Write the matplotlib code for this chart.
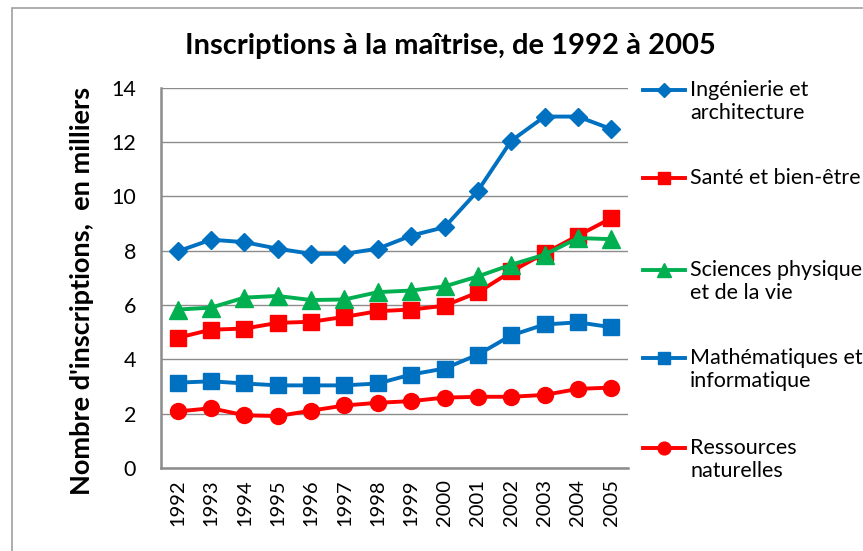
import matplotlib.pyplot as plt
from matplotlib.lines import Line2D
from matplotlib.patches import Rectangle

plt.rcParams['font.family'] = ['Lato', 'DejaVu Sans']

years = [str(y) for y in range(1992, 2006)]

ingenierie = [7.97, 8.4, 8.31, 8.07, 7.88, 7.88, 8.07, 8.55, 8.86, 10.2, 12.04, 12.93, 12.93, 12.47]
sante = [4.79, 5.09, 5.13, 5.34, 5.38, 5.56, 5.77, 5.83, 5.97, 6.46, 7.23, 7.9, 8.55, 9.19]
sciences = [5.83, 5.9, 6.27, 6.33, 6.18, 6.2, 6.47, 6.53, 6.68, 7.05, 7.48, 7.85, 8.46, 8.42]
maths = [3.14, 3.19, 3.11, 3.04, 3.04, 3.04, 3.11, 3.44, 3.66, 4.17, 4.88, 5.28, 5.36, 5.18]
ressources = [2.08, 2.2, 1.94, 1.91, 2.11, 2.3, 2.4, 2.46, 2.59, 2.62, 2.62, 2.69, 2.91, 2.96]

labels = ["Ingénierie et\narchitecture", "Santé et bien-être",
          "Sciences physiques\net de la vie", "Mathématiques et\ninformatique",
          "Ressources\nnaturelles"]

series = [
    (ingenierie, '#0070C0', 'D', 9.5),
    (sante, '#FF0000', 's', 11),
    (sciences, '#00B050', '^', 12.5),
    (maths, '#0070C0', 's', 11),
    (ressources, '#FF0000', 'o', 11.5),
]

fig = plt.figure(figsize=(8.63, 5.51), dpi=100)
fig.patches.append(Rectangle((12 / 863, -0.1), 1.2, 1 - 8 / 551 + 0.1, transform=fig.transFigure,
                             fill=False, edgecolor='#A0A0A0', linewidth=1.2))

ax = fig.add_axes([161 / 863, 1 - 468 / 551, (628 - 161) / 863, (468 - 87.5) / 551])
x = list(range(len(years)))
for vals, col, mk, ms in series:
    ax.plot(x, vals, color=col, marker=mk, markersize=ms, linewidth=2.8, clip_on=False)

ax.set_xlim(-0.5, len(years) - 0.5)
ax.set_ylim(0, 14)
ax.set_yticks(range(0, 15, 2))
ax.set_xticks(x)
ax.set_xticklabels(years, rotation=90, fontsize=14.5)
ax.tick_params(axis='y', labelsize=15.5, length=0, pad=18)
ax.tick_params(axis='x', length=0, pad=8)
ax.grid(axis='y', color='#8C8C8C', linewidth=1)
ax.set_axisbelow(True)
for s in ['top', 'right']:
    ax.spines[s].set_visible(False)
for s in ['left', 'bottom']:
    ax.spines[s].set_color('#8C8C8C')
    ax.spines[s].set_linewidth(1.8)

ax.set_ylabel("Nombre d'inscriptions,  en milliers", fontsize=19.5, fontweight='bold')
ax.yaxis.set_label_coords(-0.143, 0.465)
fig.text(450 / 863, 1 - 46 / 551, "Inscriptions à la maîtrise, de 1992 à 2005",
         ha='center', va='center', fontsize=21, fontweight='bold')

# legend drawn by hand so the marker sits on the first text line
entry_y = [90, 178, 270, 358, 448]
for (vals, col, mk, ms), lab, yy in zip(series, labels, entry_y):
    yf = 1 - yy / 551
    fig.add_artist(Line2D([643 / 863, 685 / 863], [yf, yf], transform=fig.transFigure,
                          color=col, linewidth=2.8))
    fig.add_artist(Line2D([664 / 863], [yf], transform=fig.transFigure, color=col,
                          marker=mk, markersize=ms * 0.8, linestyle='none'))
    fig.text(690 / 863, yf + 10 / 551, lab, ha='left', va='top', fontsize=15.5, linespacing=1.2)

fig.savefig('out.png', dpi=100)
